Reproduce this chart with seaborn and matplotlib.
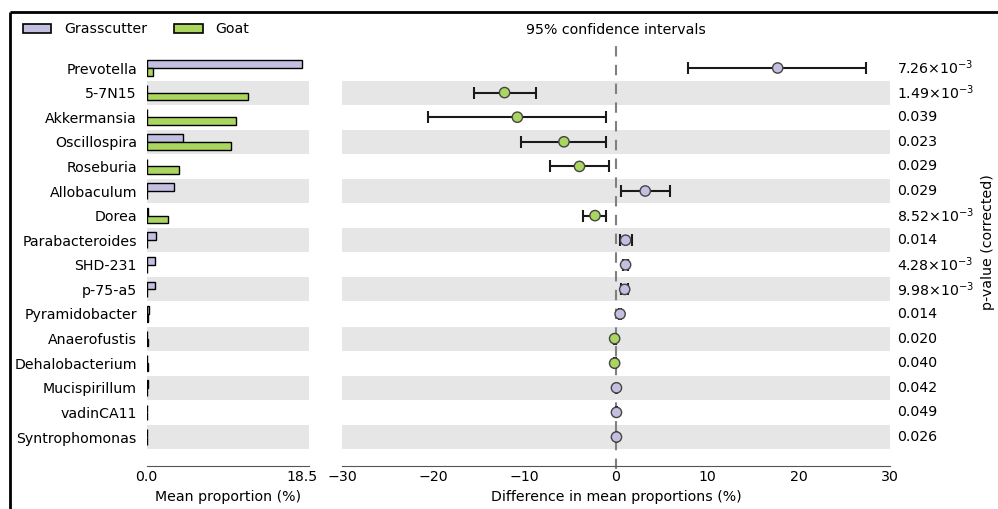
import matplotlib
matplotlib.use("Agg")
import matplotlib.pyplot as plt
from matplotlib.patches import Patch
from matplotlib.lines import Line2D
import seaborn as sns
import pandas as pd
import numpy as np

taxa = ["Prevotella", "5-7N15", "Akkermansia", "Oscillospira", "Roseburia",
        "Allobaculum", "Dorea", "Parabacteroides", "SHD-231", "p-75-a5",
        "Pyramidobacter", "Anaerofustis", "Dehalobacterium", "Mucispirillum",
        "vadinCA11", "Syntrophomonas"]
grasscutter_mean = [18.5, 0.05, 0.05, 4.3, 0.05, 3.2, 0.15, 1.1, 1.0, 1.0,
                    0.3, 0.02, 0.02, 0.15, 0.08, 0.08]
goat_mean = [0.7, 12.1, 10.7, 10.1, 3.9, 0.05, 2.6, 0.05, 0.02, 0.02,
             0.1, 0.2, 0.2, 0.02, 0.01, 0.01]
diff = [17.7, -12.2, -10.8, -5.7, -4.0, 3.2, -2.3, 1.05, 1.05, 0.95,
        0.45, -0.15, -0.15, 0.05, 0.05, 0.05]
ci_low = [7.9, -15.5, -20.6, -10.4, -7.2, 0.55, -3.6, 0.45, 0.75, 0.55,
          0.3, -0.25, -0.25, 0.0, 0.02, 0.02]
ci_high = [27.4, -8.8, -1.1, -1.1, -0.8, 5.9, -1.1, 1.75, 1.35, 1.35,
           0.6, -0.05, -0.05, 0.1, 0.08, 0.08]
enriched = ["Grasscutter", "Goat", "Goat", "Goat", "Goat", "Grasscutter", "Goat",
            "Grasscutter", "Grasscutter", "Grasscutter", "Grasscutter", "Goat",
            "Goat", "Grasscutter", "Grasscutter", "Grasscutter"]
p_values = ["7.26$\\times$10$^{-3}$", "1.49$\\times$10$^{-3}$", "0.039", "0.023", "0.029",
            "0.029", "8.52$\\times$10$^{-3}$", "0.014", "4.28$\\times$10$^{-3}$",
            "9.98$\\times$10$^{-3}$", "0.014", "0.020", "0.040", "0.042", "0.049", "0.026"]

colors = {"Grasscutter": "#c2bfe0", "Goat": "#aad55e"}

sns.set_style("white")
plt.rcParams["font.family"] = ["DejaVu Sans"]
plt.rcParams["font.size"] = 10.2
plt.rcParams["mathtext.default"] = "regular"
for k in ("text.color", "axes.labelcolor", "xtick.labelcolor", "ytick.labelcolor"):
    plt.rcParams[k] = "black"

W, H = 998, 509
fig = plt.figure(figsize=(W / 100, H / 100), dpi=100)
fig.patch.set_facecolor("white")
fig.patch.set_edgecolor("white")
fig.patch.set_linewidth(0)

top, bot = 55.7, 449.3
ax1 = fig.add_axes([146.7 / W, 1 - bot / H, 162.3 / W, (bot - top) / H])
ax2 = fig.add_axes([342 / W, 1 - bot / H, 548 / W, (bot - top) / H])

n = len(taxa)
for ax in (ax1, ax2):
    for i in range(1, n, 2):
        ax.axhspan(i - 0.49, i + 0.49, color="#e6e6e6", lw=0, zorder=0)

# left: mean proportions
bars = pd.DataFrame({
    "taxon": taxa * 2,
    "group": ["Grasscutter"] * n + ["Goat"] * n,
    "mean": grasscutter_mean + goat_mean,
})
sns.barplot(data=bars, x="mean", y="taxon", hue="group", orient="h",
            palette=colors, saturation=1, width=0.64, edgecolor="black",
            linewidth=1, legend=False, ax=ax1, zorder=2)
ax1.set_xlim(0, 19.37)
ax1.set_ylim(n - 0.5, -0.5)
ax1.set_xticks([0, 18.5])
ax1.set_xticklabels(["0.0", "18.5"])
ax1.set_xlabel("Mean proportion (%)")
ax1.set_ylabel("")
ax1.tick_params(axis="y", length=0, pad=7)

# right: differences with CIs
ci = pd.DataFrame({"taxon": taxa, "diff": diff, "lo": ci_low, "hi": ci_high,
                   "group": enriched})
ax2.plot([0, 0], [n + 0.3, -1.1], ls=(0, (5, 4)), color="#808080", lw=1.5,
         clip_on=False, zorder=1)
ypos = np.arange(n)
ax2.errorbar(ci["diff"], ypos, xerr=[ci["diff"] - ci["lo"], ci["hi"] - ci["diff"]],
             fmt="none", ecolor="#1a1a1a", elinewidth=1.5, capsize=4, capthick=1.5,
             zorder=2)
sns.scatterplot(data=ci, x="diff", y=ypos, hue="group", palette=colors, s=55,
                edgecolor="#444444", linewidth=1, legend=False, ax=ax2, zorder=3)
ax2.set_xlim(-30, 30)
ax2.set_ylim(n - 0.5, -0.5)
ax2.set_xticks([-30, -20, -10, 0, 10, 20, 30])
ax2.set_yticks([])
ax2.set_xlabel("Difference in mean proportions (%)")
ax2.set_ylabel("")
ax2.text(0, -1.55, "95% confidence intervals", ha="center", va="center")

for i, p in enumerate(p_values):
    ax2.text(1.013, i, p, transform=ax2.get_yaxis_transform(), ha="left",
             va="center")
fig.text(988 / W, 1 - 242 / H, "p-value (corrected)", rotation=90,
         ha="center", va="center")

for ax in (ax1, ax2):
    for s in ("top", "right", "left"):
        ax.spines[s].set_visible(False)
    ax.spines["bottom"].set_position(("outward", 12))
    ax.spines["bottom"].set_color("#555555")
    ax.tick_params(axis="x", direction="in", length=5, color="#555555", pad=3)
    ax.xaxis.labelpad = 4

handles = [Patch(facecolor=colors[g], edgecolor="black", lw=1.2, label=g)
           for g in ["Grasscutter", "Goat"]]
fig.legend(handles=handles, loc="center left", bbox_to_anchor=(16 / W, 1 - 29 / H),
           ncol=2, frameon=False, handlelength=2.0, handleheight=0.6,
           handletextpad=0.9, columnspacing=1.9, borderpad=0)

# partial frame around the figure (only top and left edges are visible)
fig.add_artist(Line2D([10 / W, 1.0], [1 - 12 / H, 1 - 12 / H], color="black",
                      lw=2, solid_capstyle="butt"))
fig.add_artist(Line2D([10 / W, 10 / W], [0.0, 1 - 12 / H], color="black",
                      lw=2, solid_capstyle="butt"))

fig.savefig("out.png", dpi=100, facecolor="white", edgecolor="white")
